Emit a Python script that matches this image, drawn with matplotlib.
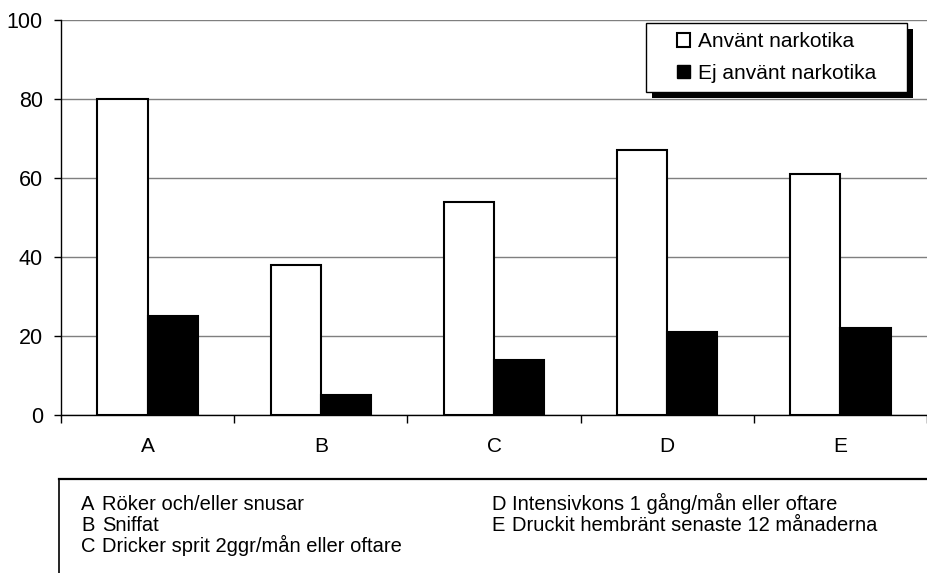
import numpy as np
import matplotlib.pyplot as plt
from matplotlib.patches import Rectangle, Patch
from matplotlib.lines import Line2D

plt.rcParams['font.family'] = ['Liberation Sans', 'DejaVu Sans']

# data
categories = ['A', 'B', 'C', 'D', 'E']
used = [80, 38, 54, 67, 61]
not_used = [25, 5, 14, 21, 22]
series_names = ['Använt narkotika', 'Ej använt narkotika']
descriptions = ['Röker och/eller snusar', 'Sniffat', 'Dricker sprit 2ggr/mån eller oftare',
                'Intensivkons 1 gång/mån eller oftare', 'Druckit hembränt senaste 12 månaderna']

W, H = 927, 573
fig = plt.figure(figsize=(W / 100, H / 100), dpi=100)
ax = fig.add_axes([61 / W, 1 - 415 / H, 1 - 61 / W, (415 - 20) / H])

x = np.arange(len(categories)) + 0.5
bw = 0.29
ax.bar(x - bw / 2, used, bw, color='white', edgecolor='black', linewidth=1.5, zorder=3)
ax.bar(x + bw / 2, not_used, bw, color='black', edgecolor='black', linewidth=1.5, zorder=3)

ax.set_xlim(0, len(categories))
ax.set_ylim(0, 100)
ax.set_yticks([0, 20, 40, 60, 80, 100])
ax.yaxis.grid(True, color='#7f7f7f', linewidth=1, zorder=0)
ax.set_axisbelow(True)

ax.set_xticks(np.arange(len(categories) + 1))
ax.set_xticklabels([])
ax.set_xticks(x, minor=True)
ax.set_xticklabels(categories, minor=True)
ax.tick_params(axis='x', which='major', length=6, width=1, direction='out')
ax.tick_params(axis='x', which='minor', length=0, pad=16, labelsize=15)
ax.tick_params(axis='y', length=5, width=1, pad=8, labelsize=15.5)

for s in ['top', 'right']:
    ax.spines[s].set_visible(False)
ax.spines['left'].set_linewidth(1)
ax.spines['bottom'].set_linewidth(1)

# legend: white box with hard black shadow, entries centred inside
lx0, lx1, ly0, ly1 = 646 / W, 907 / W, 1 - 92 / H, 1 - 23 / H
ax.add_patch(Rectangle((lx0 + 6 / W, ly0 - 6 / H), lx1 - lx0, ly1 - ly0, transform=fig.transFigure,
                       facecolor='black', edgecolor='none', clip_on=False, zorder=5))
ax.add_patch(Rectangle((lx0, ly0), lx1 - lx0, ly1 - ly0, transform=fig.transFigure,
                       facecolor='white', edgecolor='black', linewidth=1, clip_on=False, zorder=5.5))
handles = [Patch(facecolor='white', edgecolor='black', linewidth=1.5),
           Patch(facecolor='black', edgecolor='black')]
leg = ax.legend(handles, series_names, loc='center',
                bbox_to_anchor=(lx0, ly0, lx1 - lx0, ly1 - ly0), bbox_transform=fig.transFigure,
                frameon=False, borderaxespad=0, fontsize=15, handlelength=0.63, handleheight=0.63,
                handletextpad=0.35, labelspacing=0.62, borderpad=0)
leg.set_zorder(6)

# description box below
ax.add_artist(Line2D([59 / W, 1], [1 - 479 / H] * 2, transform=fig.transFigure, color='black',
                     linewidth=1.6, clip_on=False))
ax.add_artist(Line2D([59 / W] * 2, [0, 1 - 479 / H], transform=fig.transFigure, color='black',
                     linewidth=1.2, clip_on=False))
rows = [510, 531, 552, 510, 531]
cols = [81, 81, 81, 491, 491]
for cat, desc, r, c in zip(categories, descriptions, rows, cols):
    fig.text(c / W, 1 - r / H, cat, fontsize=14.5, va='baseline')
    fig.text((c + 21) / W, 1 - r / H, desc, fontsize=14.5, va='baseline')

fig.savefig('out.png', dpi=100)
